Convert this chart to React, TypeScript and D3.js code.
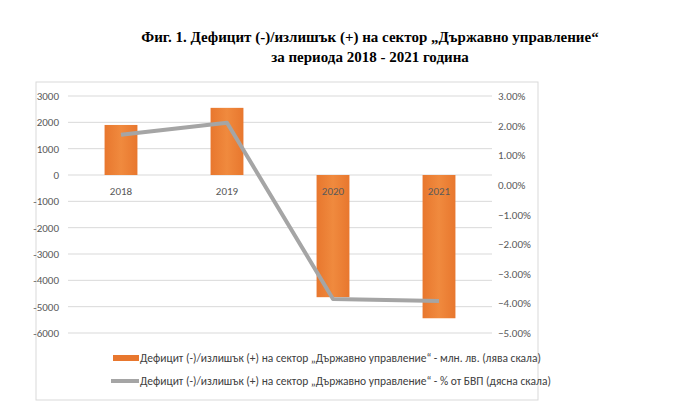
import React, { useRef, useEffect } from 'react';
import * as d3 from 'd3';

const years = ['2018', '2019', '2020', '2021'];
const balanceMln = [1900, 2550, -4640, -5440];
const balancePct = [1.69, 2.1, -3.85, -3.92];
const leftTicks = [3000, 2000, 1000, 0, -1000, -2000, -3000, -4000, -5000, -6000];
const rightTicks = [3, 2, 1, 0, -1, -2, -3, -4, -5];
const legendLabels = [
  'Дефицит (-)/излишък (+) на сектор „Държавно управление“ - млн. лв. (лява скала)',
  'Дефицит (-)/излишък (+) на сектор „Държавно управление“ - % от БВП (дясна скала)',
];

const App: React.FC = () => {
  const svgRef = useRef<SVGSVGElement | null>(null);

  useEffect(() => {
    if (!svgRef.current) return;
    const svg = d3.select(svgRef.current);
    svg.selectAll('*').remove();

    const font = 'Calibri, Carlito, "Open Sans", sans-serif';
    const x = d3.scaleBand().domain(years).range([68, 492]).paddingInner(0.69).paddingOuter(0.345);
    const yL = d3.scaleLinear().domain([-6000, 3000]).range([333, 96]);
    const yR = d3.scaleLinear().domain([-5, 3]).range([333, 96]);

    // title
    const title = svg.append('g').attr('font-family', '"Times New Roman", "Liberation Serif", serif')
      .attr('font-weight', 'bold').attr('font-size', 15).attr('text-anchor', 'middle').attr('fill', '#000');
    title.append('text').attr('x', 370).attr('y', 42).text('Фиг. 1. Дефицит (-)/излишък (+) на сектор „Държавно управление“');
    title.append('text').attr('x', 370).attr('y', 62).text('за периода 2018 - 2021 година');

    // frame
    svg.append('rect').attr('x', 36).attr('y', 82).attr('width', 502).attr('height', 318)
      .attr('fill', 'none').attr('stroke', '#d9d9d9');

    // grid
    svg.append('g').selectAll('line').data(leftTicks).enter().append('line')
      .attr('x1', 68).attr('x2', 492).attr('y1', d => yL(d)).attr('y2', d => yL(d))
      .attr('stroke', '#d9d9d9');

    svg.append('g').selectAll('text').data(leftTicks).enter().append('text')
      .attr('x', 59).attr('y', d => yL(d) + 4).attr('text-anchor', 'end')
      .attr('font-family', font).attr('font-size', 11).attr('fill', '#595959').text(d => d);

    svg.append('g').selectAll('text').data(rightTicks).enter().append('text')
      .attr('x', 498).attr('y', d => yR(d) + 4)
      .attr('font-family', font).attr('font-size', 11).attr('fill', '#595959').text(d => d3.format('.2f')(d) + '%');

    const grad = svg.append('defs').append('linearGradient').attr('id', 'barg').attr('x1', 0).attr('x2', 1);
    grad.append('stop').attr('offset', '0%').attr('stop-color', '#e8772e');
    grad.append('stop').attr('offset', '50%').attr('stop-color', '#f08a3e');
    grad.append('stop').attr('offset', '100%').attr('stop-color', '#e8772e');

    svg.append('g').selectAll('rect').data(balanceMln).enter().append('rect')
      .attr('x', (_, i) => x(years[i]) || 0).attr('width', x.bandwidth())
      .attr('y', d => yL(Math.max(0, d))).attr('height', d => Math.abs(yL(d) - yL(0)))
      .attr('fill', 'url(#barg)');

    svg.append('g').selectAll('text').data(years).enter().append('text')
      .attr('x', d => (x(d) || 0) + x.bandwidth() / 2).attr('y', yL(0) + 20).attr('text-anchor', 'middle')
      .attr('font-family', font).attr('font-size', 11).attr('fill', '#595959').text(d => d);

    const line = d3.line<number>().x((_, i) => (x(years[i]) || 0) + x.bandwidth() / 2).y(d => yR(d));
    svg.append('path').datum(balancePct).attr('d', line).attr('fill', 'none')
      .attr('stroke', '#a5a5a5').attr('stroke-width', 4).attr('stroke-linejoin', 'round');

    // legend
    const lg = svg.append('g').attr('font-family', font).attr('font-size', 11.5).attr('fill', '#404040');
    lg.append('rect').attr('x', 113).attr('y', 355).attr('width', 26).attr('height', 6).attr('fill', '#e8772e');
    lg.append('line').attr('x1', 111).attr('x2', 139).attr('y1', 381).attr('y2', 381)
      .attr('stroke', '#a5a5a5').attr('stroke-width', 4);
    legendLabels.forEach((t, i) => {
      lg.append('text').attr('x', 140).attr('y', 362 + i * 23).text(t);
    });
  }, []);

  return (
    <svg ref={svgRef} width={689} height={414}
      style={{ position: 'absolute', left: 0, top: 0, background: '#fff' }} />
  );
};

export default App;
